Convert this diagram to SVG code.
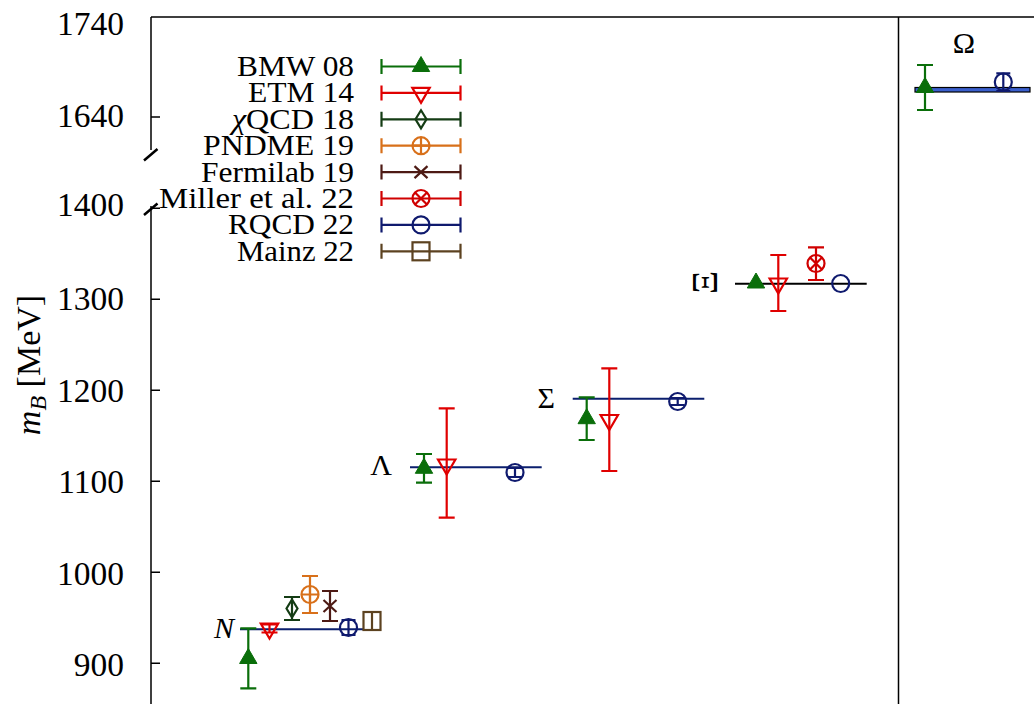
<svg xmlns="http://www.w3.org/2000/svg" width="1034" height="704" viewBox="0 0 1034 704" font-family="'Liberation Serif', 'DejaVu Serif', serif">
<style>
text{font-family:'Liberation Serif','DejaVu Serif',serif;fill:#000}
.tk{font-size:33.5px;text-anchor:end}
.lg{font-size:29.5px;text-anchor:end}
.lb{font-size:30px}
.ax{stroke:#000;stroke-width:1.5;fill:none}
.brk{stroke:#000;stroke-width:2.5;fill:none}
.eb{fill:none;stroke-width:2.2}
.mk{fill:none;stroke-width:2.2}
.bmw{stroke:#0a6e0a}
.bmwf{fill:#0a6e0a;stroke:#0a6e0a;stroke-width:1}
.etm{stroke:#e00000}
.chi{stroke:#143c14}
.pnd{stroke:#d8701a}
.fer{stroke:#4d1a14}
.mil{stroke:#d00000}
.rq{stroke:#0f1a6e}
.mz{stroke:#5c4220}
.hl{stroke:#0b1f6e;stroke-width:2;fill:none}
.xi{font-size:36px}
</style>
<defs>
<path id="tu" d="M0,-10 L8.7,5 L-8.7,5 Z"/>
<path id="td" d="M0,10 L8.7,-5 L-8.7,-5 Z"/>
<path id="dm" d="M0,-9 L5.5,0 L0,9 L-5.5,0 Z"/>
<g id="cp"><circle r="8.5"/><path d="M-8.5,0H8.5M0,-8.5V8.5"/></g>
<path id="xx" d="M-6.5,-6L6.5,6M-6.5,6L6.5,-6"/>
<g id="cx"><circle r="8.5"/><path d="M-6,-6L6,6M-6,6L6,-6"/></g>
<circle id="oc" r="8.5"/>
<rect id="sq" x="-8.5" y="-9" width="17" height="18"/>
</defs>

<g id="axes">
<path class="ax" d="M151,17H1034M151,17V150M151,206V704M898.5,17V704"/>
<path class="ax" d="M151,117H160M151,208.3H160M151,299.3H160M151,390.3H160M151,481.3H160M151,572.3H160M151,663.3H160"/>
<path class="brk" d="M144,160.5L157.5,149M144,215L157.5,203.5"/>
<text class="tk" x="124" y="35">1740</text>
<text class="tk" x="124" y="127">1640</text>
<text class="tk" x="124" y="216">1400</text>
<text class="tk" x="124" y="310">1300</text>
<text class="tk" x="124" y="401.5">1200</text>
<text class="tk" x="124" y="492.5">1100</text>
<text class="tk" x="124" y="584.5">1000</text>
<text class="tk" x="124" y="676">900</text>
<text transform="translate(40,365) rotate(-90)" text-anchor="middle" font-size="34"><tspan font-style="italic">m</tspan><tspan font-style="italic" font-size="24" dy="6">B</tspan><tspan dy="-6"> [MeV]</tspan></text>
</g>

<g id="legend">
<text class="lg" x="354" y="76" textLength="117" lengthAdjust="spacingAndGlyphs">BMW 08</text>
<text class="lg" x="354" y="102.4" textLength="106" lengthAdjust="spacingAndGlyphs">ETM 14</text>
<text class="lg" x="354" y="128.8" textLength="122" lengthAdjust="spacingAndGlyphs"><tspan font-style="italic">χ</tspan>QCD 18</text>
<text class="lg" x="354" y="155.2" textLength="151" lengthAdjust="spacingAndGlyphs">PNDME 19</text>
<text class="lg" x="354" y="181.6" textLength="153" lengthAdjust="spacingAndGlyphs">Fermilab 19</text>
<text class="lg" x="354" y="208" textLength="195" lengthAdjust="spacingAndGlyphs">Miller et al. 22</text>
<text class="lg" x="354" y="234.4" textLength="126" lengthAdjust="spacingAndGlyphs">RQCD 22</text>
<text class="lg" x="354" y="260.8" textLength="117" lengthAdjust="spacingAndGlyphs">Mainz 22</text>
<path class="eb bmw" d="M381.5,66.5H460.5M381.5,59V74M460.5,59V74"/>
<use href="#tu" class="bmwf" x="421" y="66.5"/>
<path class="eb etm" d="M381.5,92.9H460.5M381.5,85.4V100.4M460.5,85.4V100.4"/>
<use href="#td" class="mk etm" x="421" y="92.9" fill="#fff"/>
<path class="eb chi" d="M381.5,119.3H460.5M381.5,111.8V126.8M460.5,111.8V126.8"/>
<use href="#dm" class="mk chi" x="421" y="119.3"/>
<path class="eb pnd" d="M381.5,145.7H460.5M381.5,138.2V153.2M460.5,138.2V153.2"/>
<use href="#cp" class="mk pnd" x="421" y="145.7"/>
<path class="eb fer" d="M381.5,172.1H460.5M381.5,164.6V179.6M460.5,164.6V179.6"/>
<use href="#xx" class="mk fer" x="421" y="172.1"/>
<path class="eb mil" d="M381.5,198.5H460.5M381.5,191V206M460.5,191V206"/>
<use href="#cx" class="mk mil" x="421" y="198.5"/>
<path class="eb rq" d="M381.5,224.9H460.5M381.5,217.4V232.4M460.5,217.4V232.4"/>
<use href="#oc" class="mk rq" x="421" y="224.9"/>
<path class="eb mz" d="M381.5,251.3H460.5M381.5,243.8V258.8M460.5,243.8V258.8"/>
<use href="#sq" class="mk mz" x="421" y="251.3"/>
</g>

<g id="connectors">
<path class="hl" d="M240,629.3H363M410,467.3H541.7M572.7,398.7H704.3"/>
<path d="M735,283.7H866.7" stroke="#000" stroke-width="2" fill="none"/>
<rect x="915" y="87.5" width="115" height="4.5" fill="#3a5fcd" stroke="#000" stroke-width="1.2"/>
</g>

<g id="N">
<text class="lb" x="234" y="638" text-anchor="end" font-style="italic">N</text>
<path class="eb bmw" d="M248.3,628.3V688.3M240.3,628.3H256.3M240.3,688.3H256.3"/>
<use href="#tu" class="bmwf" x="248.3" y="658.5"/>
<path class="eb etm" d="M269.5,624.5V632.5M261.5,624.5H277.5M261.5,632.5H277.5"/>
<use href="#td" class="mk etm" x="269.5" y="628.5"/>
<path class="eb chi" d="M292,597V620M284,597H300M284,620H300"/>
<use href="#dm" class="mk chi" x="292" y="608.5"/>
<path class="eb pnd" d="M310,576V613M302,576H318M302,613H318"/>
<use href="#cp" class="mk pnd" x="310" y="594.5"/>
<path class="eb fer" d="M330,591V621M322,591H338M322,621H338"/>
<use href="#xx" class="mk fer" x="330" y="606"/>
<path class="eb rq" d="M348.5,620V635M341.5,620H355.5M341.5,635H355.5"/>
<use href="#oc" class="mk rq" x="348.5" y="627.5"/>
<path class="eb mz" d="M372,613V629"/>
<use href="#sq" class="mk mz" x="372" y="621"/>
</g>

<g id="Lambda">
<text class="lb" x="392" y="475" text-anchor="end">Λ</text>
<path class="eb bmw" d="M424,454V482.7M416,454H432M416,482.7H432"/>
<use href="#tu" class="bmwf" x="424" y="468.3"/>
<path class="eb etm" d="M446.7,408.3V517.7M438.7,408.3H454.7M438.7,517.7H454.7"/>
<use href="#td" class="mk etm" x="446.7" y="464.5"/>
<path class="eb rq" d="M515,468V477M508,468H522M508,477H522"/>
<use href="#oc" class="mk rq" x="515" y="472.5"/>
</g>

<g id="Sigma">
<text class="lb" x="555" y="408" text-anchor="end">Σ</text>
<path class="eb bmw" d="M586.7,397.3V440M578.7,397.3H594.7M578.7,440H594.7"/>
<use href="#tu" class="bmwf" x="586.7" y="418.7"/>
<path class="eb etm" d="M609.3,368.3V471M601.3,368.3H617.3M601.3,471H617.3"/>
<use href="#td" class="mk etm" x="609.3" y="420"/>
<path class="eb rq" d="M677.7,398V405M670.7,398H684.7M670.7,405H684.7"/>
<use href="#oc" class="mk rq" x="677.7" y="401.5"/>
</g>

<g id="Xi">
<text class="xi" transform="translate(708,282.5) rotate(-90)" y="9" text-anchor="middle">Ξ</text>
<use href="#tu" class="bmwf" x="756" y="283"/>
<path class="eb etm" d="M778.3,255V311M770.3,255H786.3M770.3,311H786.3"/>
<use href="#td" class="mk etm" x="778.3" y="283.5"/>
<path class="eb mil" d="M816,247.3V280M808,247.3H824M808,280H824"/>
<use href="#cx" class="mk mil" x="816" y="263.5"/>
<use href="#oc" class="mk rq" x="840.7" y="283.5"/>
</g>

<g id="Omega">
<text class="lb" x="964" y="53" text-anchor="middle">Ω</text>
<path class="eb bmw" d="M925,65V110M917,65H933M917,110H933"/>
<use href="#tu" class="bmwf" x="925" y="87.5"/>
<path class="eb rq" d="M1003.3,73.3V91M996.3,73.3H1010.3M996.3,91H1010.3"/>
<use href="#oc" class="mk rq" x="1003.3" y="82"/>
</g>
</svg>
